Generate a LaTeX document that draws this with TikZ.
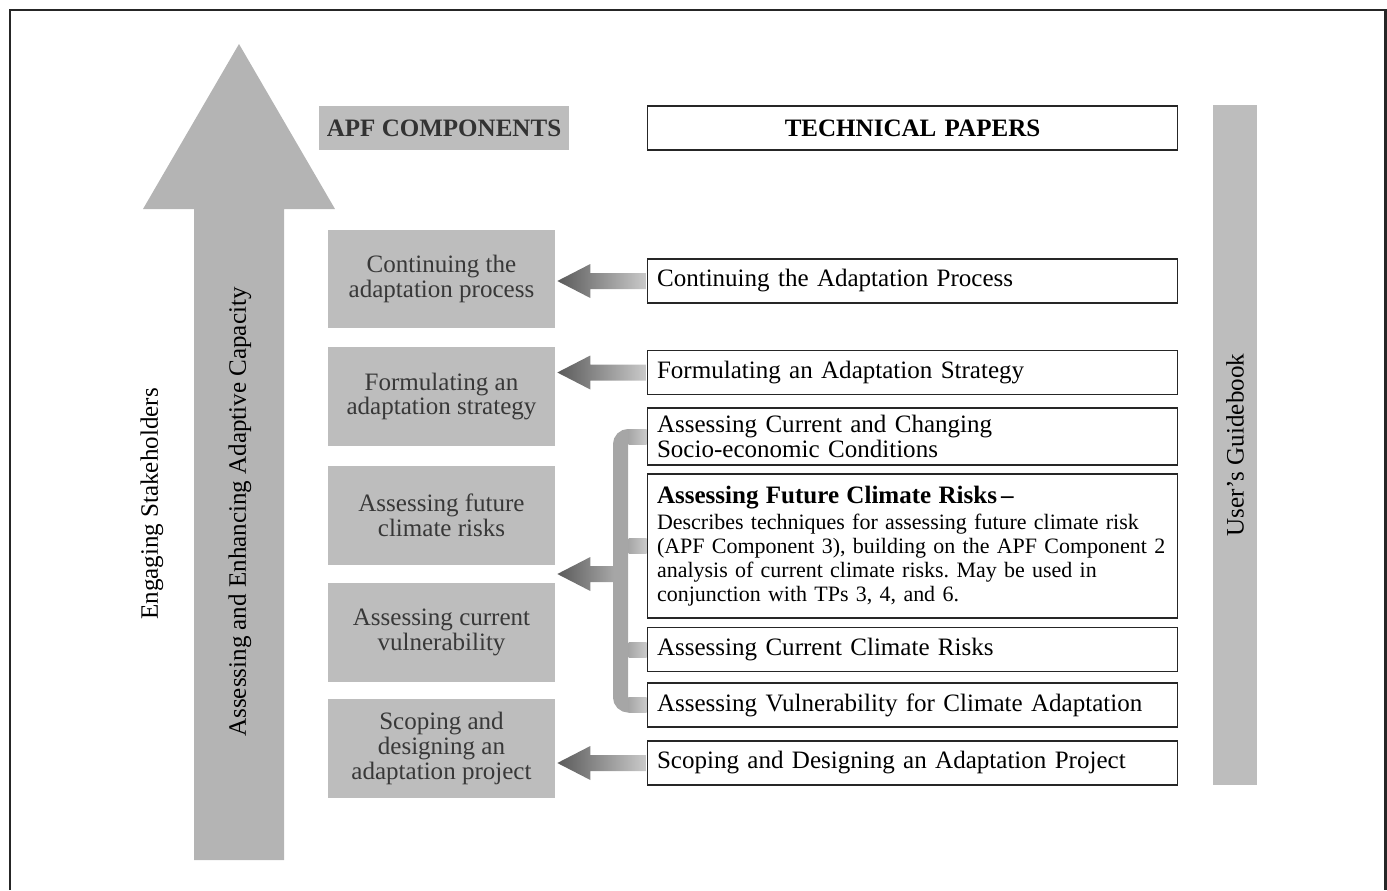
\documentclass[tikz,border=0pt]{standalone}
\usepackage{fontspec}
\setmainfont{Liberation Serif}
\usepackage{tikz}
\usetikzlibrary{calc}
\frenchspacing

\definecolor{grisflecha}{HTML}{B4B4B4}
\definecolor{griscaja}{HTML}{BDBDBD}
\definecolor{grisbarra}{HTML}{A6A6A6}
\definecolor{grisoscuro}{HTML}{5A5A5A}
\definecolor{grisclaro}{HTML}{CACACA}

\newcommand{\tamano}{\fontsize{14.25}{14.2}\selectfont}
% flecha sombreada: #2 cola, #3 punta
\newcommand{\flechagris}[3][]{%
  \shade[flecha,#1] (#3) -- ($(#3)+(33,-17)$) -- ($(#3)+(33,-8)$) -- ($(#2)+(0,-8)$)
    -- ($(#2)+(0,8)$) -- ($(#3)+(33,8)$) -- ($(#3)+(33,17)$) -- cycle;}

\begin{document}
\begin{tikzpicture}[x=0.02cm, y=-0.02cm,
  every node/.style={font=\tamano},
  apfbox/.style={fill=griscaja, text=black!78, minimum width=4.54cm, minimum height=1.97cm, inner sep=0pt, align=center},
  tpbox/.style={draw=black!85, line width=0.6pt, fill=white, text width=10.22cm, inner xsep=0.2cm, inner ysep=0pt, align=left, minimum height=0.88cm},
  vertical/.style={rotate=90, inner sep=0pt},
  flecha/.style={left color=grisoscuro, right color=grisclaro},
  llave/.style={draw=grisbarra, line width=0.3cm, rounded corners=0.16cm},
  rama/.style={left color=grisbarra, right color=grisclaro}]

\useasboundingbox (0,0) rectangle (1387,890);

% Marco
\draw[line width=1.7pt, black!85] (10,890) -- (10,10) -- (1385.5,10) -- (1385.5,890);

% Flecha grande
\fill[grisflecha] (239,44) -- (335,209) -- (284,209) -- (284,860) -- (194,860) -- (194,209) -- (143,209) -- cycle;
\node[vertical] (engaging) at (152,504) {Engaging Stakeholders};
\node[vertical] (capacity) at (240,512) {Assessing and Enhancing Adaptive Capacity};

% Encabezados
\node[apfbox, minimum width=5cm, minimum height=0.88cm, text=black!80, font=\tamano\bfseries] (apfhead) at (444,128) {APF COMPONENTS};
\node[tpbox, align=center, font=\tamano\bfseries] (tphead) at (912.5,128) {TECHNICAL PAPERS};

% Componentes APF
\node[apfbox] (apfa) at (441.5,279) {Continuing the\\adaptation process};
\node[apfbox] (apfb) at (441.5,396.5) {Formulating an\\adaptation strategy};
\node[apfbox] (apfc) at (441.5,515.5) {Assessing future\\climate risks};
\node[apfbox] (apfd) at (441.5,632.5) {Assessing current\\vulnerability};
\node[apfbox] (apfe) at (441.5,748.5) {Scoping and\\designing an\\adaptation project};

% Technical papers
\node[tpbox] (tpa) at (912.5,281) {Continuing the Adaptation Process};
\node[tpbox] (tpb) at (912.5,372.5) {Formulating an Adaptation Strategy};
\node[tpbox, minimum height=1.14cm] (tpc) at (912.5,436.5) {Assessing Current and Changing\\Socio-economic Conditions};
\node[tpbox, minimum height=2.88cm, font=\fontsize{12.5}{13.7}\selectfont] (tpd) at (912.5,546)
  {{\fontsize{14.25}{13.7}\selectfont\bfseries Assessing Future Climate Risks\,--}\\[1pt]
   Describes techniques for assessing future climate risk\\
   (APF Component 3), building on the APF Component 2\\
   analysis of current climate risks. May be used in\\
   conjunction with TPs 3, 4, and 6.};
\node[tpbox] (tpe) at (912.5,649.5) {Assessing Current Climate Risks};
\node[tpbox] (tpf) at (912.5,705) {Assessing Vulnerability for Climate Adaptation};
\node[tpbox] (tpg) at (912.5,763) {Scoping and Designing an Adaptation Project};

% User's Guidebook
\node[vertical, fill=griscaja, minimum width=13.6cm, minimum height=0.88cm] (guia) at (1235,445) {User's Guidebook};

% Flechas
\coordinate (pa) at ($(apfa.east |- tpa.west)+(2,0)$);
\coordinate (pb) at ($(apfb.east |- tpb.west)+(2,0)$);
\coordinate (pg) at ($(apfe.east |- tpg.west)+(2,0)$);
\flechagris{tpa.west}{pa}
\flechagris{tpb.west}{pb}
\flechagris{tpg.west}{pg}

% Llave
\coordinate (barra) at (620.5,0);
\draw[llave] ($(tpc.west -| barra)+(10,0)$) -- (tpc.west -| barra) -- (tpf.west -| barra) -- ($(tpf.west -| barra)+(10,0)$);
\foreach \tp in {tpc,tpd,tpe,tpf}
  \shade[rama] ($(\tp.west -| barra)+(8,-7.5)$) rectangle ($(\tp.west)+(0,7.5)$);
\coordinate (pm) at ($(apfc.south east)!0.5!(apfd.north east)+(2,0)$);
\coordinate (pj) at ($(pm -| barra)+(-7,0)$);
\flechagris[right color=grisbarra]{pj}{pm}

\end{tikzpicture}
\end{document}
